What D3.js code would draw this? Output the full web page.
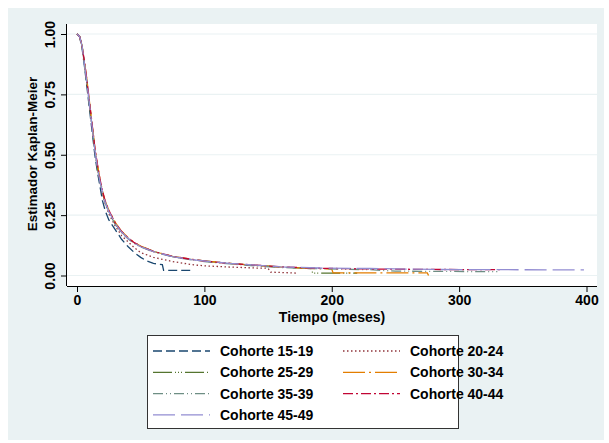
<!DOCTYPE html>
<html>

<head>
    <script src='https://cdn.jsdelivr.net/npm/d3@7'></script>
    <style>
        body { margin: 0; background: #fff; }
        text { font-family: 'Liberation Sans', Arial, sans-serif; font-weight: bold; fill: #000; }
    </style>
</head>

<body>
    <svg width='609' height='443'></svg>
</body>

<script>

    // cohort names, in legend order
    var cohortes = ['Cohorte 15-19', 'Cohorte 20-24', 'Cohorte 25-29', 'Cohorte 30-34',
        'Cohorte 35-39', 'Cohorte 40-44', 'Cohorte 45-49'];

    // kaplan-meier estimates: [months, survival]
    var km1519 = [[0, 1], [2, 0.99], [4, 0.94], [6, 0.86], [8, 0.77], [10, 0.68], [12, 0.59], [14, 0.50],
        [16, 0.43], [18, 0.37], [20, 0.31], [22, 0.27], [25, 0.23], [30, 0.19], [35, 0.15], [40, 0.12],
        [45, 0.095], [50, 0.075], [55, 0.06], [60, 0.05], [67, 0.045], [68, 0.021], [90, 0.021]];
    var km2024 = [[0, 1], [2, 0.99], [4, 0.95], [6, 0.87], [8, 0.79], [10, 0.70], [12, 0.61], [14, 0.52],
        [16, 0.45], [18, 0.39], [20, 0.34], [22, 0.30], [25, 0.255], [30, 0.205], [35, 0.165], [40, 0.14],
        [45, 0.115], [50, 0.095], [55, 0.085], [60, 0.075], [68, 0.066], [75, 0.058], [90, 0.045],
        [100, 0.04], [120, 0.035], [140, 0.031], [150, 0.03], [152, 0.014], [172, 0.01]];
    var km2529 = [[0, 1], [2, 0.99], [4, 0.95], [6, 0.87], [8, 0.79], [10, 0.70], [12, 0.61], [14, 0.52],
        [16, 0.45], [18, 0.39], [20, 0.345], [22, 0.305], [25, 0.265], [30, 0.215], [35, 0.18], [40, 0.155],
        [45, 0.135], [50, 0.12], [55, 0.11], [60, 0.10], [75, 0.078], [90, 0.066], [100, 0.06], [120, 0.05],
        [140, 0.042], [160, 0.035], [184, 0.029], [185, 0.01], [220, 0.01]];
    var km3034 = [[0, 1], [2, 0.99], [4, 0.95], [6, 0.88], [8, 0.80], [10, 0.71], [12, 0.62], [14, 0.53],
        [16, 0.46], [18, 0.40], [20, 0.35], [22, 0.31], [25, 0.27], [30, 0.22], [35, 0.183], [40, 0.157],
        [45, 0.137], [50, 0.122], [55, 0.111], [60, 0.10], [75, 0.079], [90, 0.067], [100, 0.06], [120, 0.05],
        [140, 0.042], [160, 0.035], [180, 0.03], [200, 0.027], [201, 0.011], [275, 0.011], [276, 0]];
    var km3539 = [[0, 1], [2, 0.99], [4, 0.95], [6, 0.87], [8, 0.79], [10, 0.70], [12, 0.61], [14, 0.52],
        [16, 0.45], [18, 0.39], [20, 0.345], [22, 0.305], [25, 0.262], [30, 0.212], [35, 0.178], [40, 0.152],
        [45, 0.133], [50, 0.118], [55, 0.108], [60, 0.098], [75, 0.077], [90, 0.065], [100, 0.058],
        [120, 0.048], [140, 0.04], [160, 0.033], [190, 0.028], [230, 0.024], [250, 0.018], [330, 0.016]];
    var km4044 = [[0, 1], [2, 0.99], [4, 0.95], [6, 0.88], [8, 0.80], [10, 0.71], [12, 0.62], [14, 0.53],
        [16, 0.46], [18, 0.40], [20, 0.35], [22, 0.31], [25, 0.27], [30, 0.218], [35, 0.182], [40, 0.156],
        [45, 0.136], [50, 0.121], [55, 0.11], [60, 0.10], [75, 0.079], [90, 0.067], [100, 0.06], [120, 0.05],
        [140, 0.043], [160, 0.036], [190, 0.03], [230, 0.027], [280, 0.025], [332, 0.024]];
    var km4549 = [[0, 1], [2, 0.99], [4, 0.95], [6, 0.87], [8, 0.79], [10, 0.70], [12, 0.61], [14, 0.52],
        [16, 0.45], [18, 0.39], [20, 0.345], [22, 0.305], [25, 0.265], [30, 0.215], [35, 0.18], [40, 0.154],
        [45, 0.134], [50, 0.119], [55, 0.109], [60, 0.099], [75, 0.078], [90, 0.066], [100, 0.06],
        [120, 0.05], [140, 0.043], [160, 0.036], [190, 0.031], [230, 0.029], [280, 0.025], [398, 0.023]];
    var series = [km1519, km2024, km2529, km3034, km3539, km4044, km4549];

    // axis ticks
    var xTicks = [0, 100, 200, 300, 400];
    var yTicks = [0, 0.25, 0.5, 0.75, 1];

    // stata s2color style
    var colores = ['#1a476f', '#90353b', '#55752f', '#e37e00', '#6e8e84', '#c10534', '#938dd2'];
    var trazos = ['9,4', '1.5,2.5', '19,3,1,2,1,2,1,3', '22,4,2,4', '10,3,1,3,1,3', '10,3,2,3', '22,6'];

    var svg = d3.select('svg');

    // grey outer background and white plot region
    svg.append('rect').attr('x', 8).attr('y', 8).attr('width', 596).attr('height', 432).attr('fill', '#eaf2f3');
    svg.append('rect').attr('x', 67).attr('y', 24).attr('width', 530).attr('height', 262).attr('fill', '#fff');

    var x = d3.scaleLinear().domain([0, 400]).range([77, 586.5]);
    var y = d3.scaleLinear().domain([0, 1]).range([275.5, 34]);

    // gridlines
    svg.append('g')
        .selectAll('line')
        .data(yTicks)
        .enter()
        .append('line')
        .attr('x1', 67).attr('x2', 597)
        .attr('y1', function (d) { return y(d); })
        .attr('y2', function (d) { return y(d); })
        .attr('stroke', '#eaf2f3')
        .attr('stroke-width', 1.2);

    // the curves
    var line = d3.line()
        .x(function (d) { return x(d[0]); })
        .y(function (d) { return y(d[1]); });

    svg.append('g')
        .selectAll('path')
        .data(series)
        .enter()
        .append('path')
        .attr('d', line)
        .attr('fill', 'none')
        .attr('stroke', function (d, i) { return colores[i]; })
        .attr('stroke-width', 1.3)
        .attr('stroke-dasharray', function (d, i) { return trazos[i]; });

    // x axis
    var gx = svg.append('g')
        .attr('transform', 'translate(0,286)')
        .call(d3.axisBottom(x).tickValues(xTicks).tickSize(6).tickPadding(3).tickFormat(d3.format('d')));
    gx.select('.domain').attr('d', 'M67,0.5H597').attr('stroke', '#000');
    gx.selectAll('text').attr('font-size', 14).attr('font-family', null);

    // y axis, labels turned
    var gy = svg.append('g')
        .attr('transform', 'translate(67,0)')
        .call(d3.axisLeft(y).tickValues(yTicks).tickSize(6).tickFormat(d3.format('.2f')));
    gy.select('.domain').attr('d', 'M-0.5,24V286').attr('stroke', '#000');
    gy.selectAll('.tick text')
        .attr('font-size', 14)
        .attr('font-family', null)
        .attr('x', 0).attr('dy', 0)
        .attr('text-anchor', 'middle')
        .attr('transform', 'translate(-12,0) rotate(-90)');

    // axis titles
    svg.append('text')
        .attr('x', 332).attr('y', 322)
        .attr('text-anchor', 'middle')
        .attr('font-size', 14)
        .text('Tiempo (meses)');

    svg.append('text')
        .attr('transform', 'translate(37,154) rotate(-90)')
        .attr('text-anchor', 'middle')
        .attr('font-size', 13.5)
        .text('Estimador Kaplan-Meier');

    // legend
    var leg = svg.append('g');
    leg.append('rect')
        .attr('x', 147.5).attr('y', 335.5).attr('width', 311).attr('height', 93)
        .attr('fill', '#fff').attr('stroke', '#333');

    var item = leg.selectAll('g.item')
        .data(cohortes)
        .enter()
        .append('g')
        .attr('class', 'item')
        .attr('transform', function (d, i) {
            return 'translate(' + (i % 2 ? 343 : 153) + ',' + (351 + Math.floor(i / 2) * 21.3) + ')';
        });

    item.append('line')
        .attr('x1', 0).attr('x2', 57)
        .attr('stroke', function (d, i) { return colores[i]; })
        .attr('stroke-width', 1.3)
        .attr('stroke-dasharray', function (d, i) { return trazos[i]; });

    item.append('text')
        .attr('x', 67).attr('y', 5)
        .attr('font-size', 14)
        .text(function (d) { return d; });

</script>

</html>
